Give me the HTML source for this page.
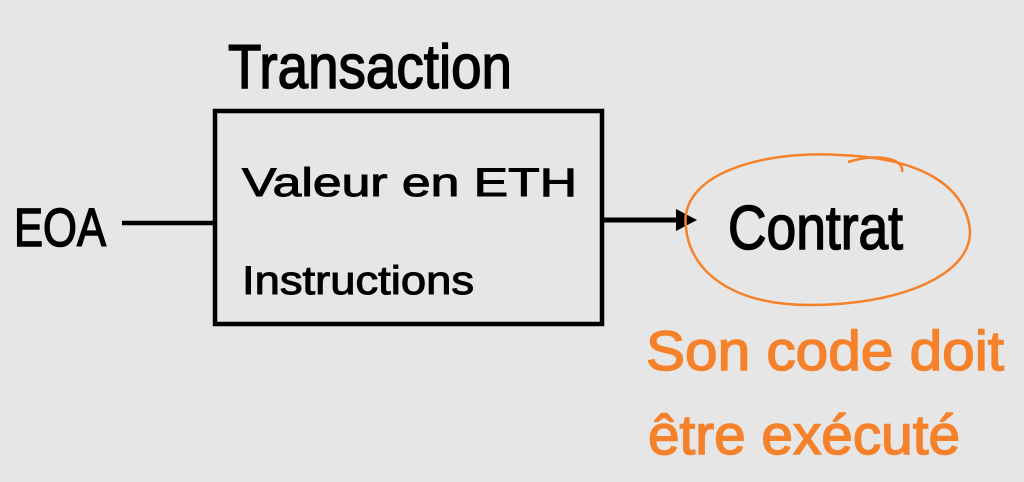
<!DOCTYPE html>
<html><head><meta charset="utf-8"><style>
html,body{margin:0;padding:0;background:#e6e6e6;}
svg{display:block;}
text{font-family:"Liberation Sans",sans-serif;}
</style></head><body>
<svg width="1024" height="482" viewBox="0 0 1024 482">
<rect width="1024" height="482" fill="#e6e6e6"/>
<g fill="#000" stroke="#000" stroke-width="1.5">
<text x="228" y="88" font-size="62" textLength="284" lengthAdjust="spacingAndGlyphs">Transaction</text>
<text x="242" y="196" font-size="40" textLength="335" lengthAdjust="spacingAndGlyphs" stroke-width="1">Valeur  en  ETH</text>
<text x="242" y="294" font-size="40" textLength="232" lengthAdjust="spacingAndGlyphs" stroke-width="1">Instructions</text>
<text x="14" y="246" font-size="54" textLength="92" lengthAdjust="spacingAndGlyphs">EOA</text>
<text x="728" y="249" font-size="62" textLength="175" lengthAdjust="spacingAndGlyphs">Contrat</text>
</g>
<rect x="215" y="111" width="387" height="213" fill="none" stroke="#000" stroke-width="4.5"/>
<line x1="122" y1="223" x2="213" y2="223" stroke="#000" stroke-width="4.5"/>
<line x1="603" y1="220" x2="680" y2="220" stroke="#000" stroke-width="5"/>
<polygon points="676,209 697,220 676,231" fill="#000"/>
<path d="M686,228 C678,175 760,150 840,155 C920,158 965,185 970,230 C972,275 900,305 810,305 C730,305 690,270 686,228 Z" fill="none" stroke="#f5822a" stroke-width="2.5"/>
<path d="M848,162 C880,152 905,160 902,172" fill="none" stroke="#f5822a" stroke-width="2.5"/>
<g fill="#f5822a" stroke="#f5822a" stroke-width="1.5">
<text x="646" y="370" font-size="56" textLength="358" lengthAdjust="spacingAndGlyphs">Son  code  doit</text>
<text x="648" y="454" font-size="56" textLength="312" lengthAdjust="spacingAndGlyphs">être   exécuté</text>
</g>
</svg>
</body></html>
